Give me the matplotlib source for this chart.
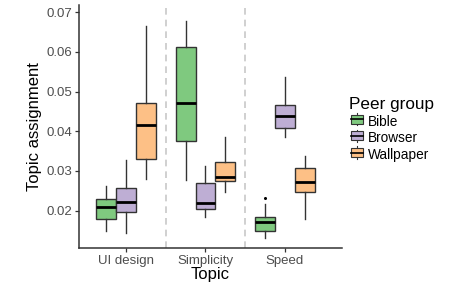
import matplotlib
matplotlib.use("Agg")
import matplotlib.pyplot as plt
from matplotlib.legend_handler import HandlerBase
from matplotlib.patches import Rectangle
from matplotlib.lines import Line2D

plt.rcParams["font.family"] = ["Liberation Sans", "DejaVu Sans"]

topics = ["UI design", "Simplicity", "Speed"]
groups = ["Bible", "Browser", "Wallpaper"]
colors = ["#7fc97f", "#beaed4", "#fdc086"]

# per group, one value per topic
whislo = {"Bible": [0.0149, 0.0277, 0.0130],
          "Browser": [0.0143, 0.0185, 0.0385],
          "Wallpaper": [0.0280, 0.0246, 0.0178]}
q1 = {"Bible": [0.0179, 0.0376, 0.0150],
      "Browser": [0.0196, 0.0203, 0.0409],
      "Wallpaper": [0.0330, 0.0275, 0.0246]}
med = {"Bible": [0.0209, 0.0472, 0.0171],
       "Browser": [0.0223, 0.0219, 0.0439],
       "Wallpaper": [0.0416, 0.0286, 0.0272]}
q3 = {"Bible": [0.0230, 0.0612, 0.0183],
      "Browser": [0.0258, 0.0269, 0.0466],
      "Wallpaper": [0.0471, 0.0323, 0.0308]}
whishi = {"Bible": [0.0261, 0.0678, 0.0217],
          "Browser": [0.0328, 0.0313, 0.0538],
          "Wallpaper": [0.0665, 0.0386, 0.0339]}
fliers = {"Bible": [[], [], [0.0233]],
          "Browser": [[], [], []],
          "Wallpaper": [[], [], []]}


class BoxHandler(HandlerBase):
    def __init__(self, color):
        super().__init__()
        self.color = color

    def create_artists(self, legend, orig, xd, yd, w, h, fontsize, trans):
        cx = xd + w / 2
        box = Rectangle((xd + w * 0.1, yd + h * 0.1), w * 0.8, h * 0.8,
                        facecolor=self.color, edgecolor="#333333", lw=0.8, transform=trans)
        mid = Line2D([xd + w * 0.1, xd + w * 0.9], [yd + h / 2] * 2, color="black", lw=1.2, transform=trans)
        wl = Line2D([cx, cx], [yd - h * 0.05, yd + h * 1.05], color="#333333", lw=0.8, transform=trans)
        return [wl, box, mid]


fig = plt.figure(figsize=(4.54, 2.86), dpi=100)
ax = fig.add_axes([0.1747, 0.1329, 0.5779, 0.8507])

width = 0.25
offsets = [-0.25, 0, 0.25]
for g, off, col in zip(groups, offsets, colors):
    stats = []
    for i in range(len(topics)):
        stats.append(dict(whislo=whislo[g][i], q1=q1[g][i], med=med[g][i],
                          q3=q3[g][i], whishi=whishi[g][i], fliers=fliers[g][i]))
    pos = [i + 1 + off for i in range(len(topics))]
    ax.bxp(stats, positions=pos, widths=width, patch_artist=True, showcaps=False,
           boxprops=dict(facecolor=col, edgecolor="#333333", lw=1.0),
           medianprops=dict(color="black", lw=2.0),
           whiskerprops=dict(color="#333333", lw=1.0),
           flierprops=dict(marker="o", markersize=1.2, markerfacecolor="black",
                           markeredgecolor="black"),
           manage_ticks=False, zorder=3)

for xv in [1.5, 2.5]:
    ax.axvline(xv, color="#c8c8c8", ls=(0, (4, 3)), lw=1.2, zorder=1)

ax.set_xlim(0.413, 3.713)
ax.set_ylim(0.0106, 0.0719)
ax.set_xticks([1, 2, 3])
ax.set_xticklabels(topics)
ax.set_yticks([0.02, 0.03, 0.04, 0.05, 0.06, 0.07])
ax.set_yticklabels(["0.02", "0.03", "0.04", "0.05", "0.06", "0.07"])
for s in ["top", "right"]:
    ax.spines[s].set_visible(False)
for s in ["left", "bottom"]:
    ax.spines[s].set_color("#333333")
    ax.spines[s].set_linewidth(1.1)
ax.tick_params(colors="#333333", labelcolor="#4d4d4d", labelsize=9.5, length=3, width=0.9, pad=2)
ax.set_xlabel("Topic", fontsize=12, labelpad=0)
ax.set_ylabel("Topic assignment", fontsize=12, labelpad=3)

handles = [Rectangle((0, 0), 1, 1) for _ in groups]
leg = fig.legend(handles, groups, title="Peer group", loc="upper left",
                 bbox_to_anchor=(0.757, 0.68), frameon=False, fontsize=9.8,
                 title_fontsize=12.3, handlelength=1.1, handleheight=0.9,
                 handletextpad=0.3, labelspacing=0.2, borderaxespad=0,
                 handler_map={h: BoxHandler(c) for h, c in zip(handles, colors)})
leg._legend_box.align = "left"

fig.savefig("out.png", dpi=100)
